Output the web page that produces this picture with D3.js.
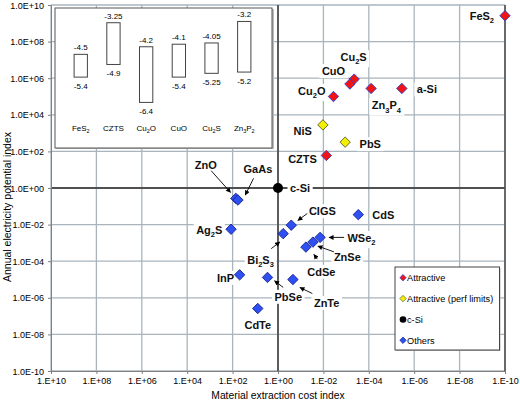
<!DOCTYPE html>
<html><head><meta charset="utf-8">
<script src="https://cdn.jsdelivr.net/npm/d3@7/dist/d3.min.js"></script>
<style>body{margin:0;background:#fff}svg{display:block;font-family:"Liberation Sans",Arial,sans-serif}</style>
</head><body><svg id="c" width="520" height="401"></svg>
<script>
// ---------- data ----------
const materials = ["FeS2","Cu2S","CuO","Cu2O","Zn3P4","a-Si","NiS","PbS","CZTS","c-Si","ZnO","GaAs","Ag2S","CIGS","Bi2S3","CdS","WSe2","ZnSe","CdSe","PbSe","ZnTe","InP","CdTe"];
const costIndex = [1e-10,4.4e-4,6.8e-4,3.6e-3,7.9e-5,3.5e-6,1.05e-2,1.1e-3,7.4e-3,1,72,58,117,0.26,0.59,2.9e-4,1.4e-2,2.9e-2,5.9e-2,2.9,0.22,49,7.8];
const electricityIndex = [2.6e9,8.9e5,4.8e5,1.0e5,2.75e5,2.75e5,2.8e3,3.2e2,60,1,0.27,0.22,5.6e-3,9.3e-3,3.2e-3,3.5e-2,2.0e-3,1.1e-3,5.9e-4,1.3e-5,1.0e-5,1.8e-5,2.6e-7];
const groups = ["Attractive","Attractive","Attractive","Attractive","Attractive","Attractive","Attractive (perf limits)","Attractive (perf limits)","Attractive","c-Si","Others","Others","Others","Others","Others","Others","Others","Others","Others","Others","Others","Others","Others"];
const xTickValues = [1e10,1e8,1e6,1e4,1e2,1,1e-2,1e-4,1e-6,1e-8,1e-10];
const xTickLabels = ["1.E+10","1.E+08","1.E+06","1.E+04","1.E+02","1.E+00","1.E-02","1.E-04","1.E-06","1.E-08","1.E-10"];
const yTickValues = [1e-10,1e-8,1e-6,1e-4,1e-2,1,1e2,1e4,1e6,1e8,1e10];
const yTickLabels = ["1.0E-10","1.0E-08","1.0E-06","1.0E-04","1.0E-02","1.0E+00","1.0E+02","1.0E+04","1.0E+06","1.0E+08","1.0E+10"];
const legendLabels = ["Attractive","Attractive (perf limits)","c-Si","Others"];
const insetMaterials = ["FeS2","CZTS","Cu2O","CuO","Cu2S","Zn3P2"];
const insetHigh = [-4.5,-3.25,-4.2,-4.1,-4.05,-3.2];
const insetLow = [-5.4,-4.9,-6.4,-5.4,-5.25,-5.2];
const insetHighLabels = ["-4.5","-3.25","-4.2","-4.1","-4.05","-3.2"];
const insetLowLabels = ["-5.4","-4.9","-6.4","-5.4","-5.25","-5.2"];

// ---------- layout / style ----------
const L = 51, R = 505, T = 5, B = 371;
const gridColor = "#a9b4bc";
const styles = {
  "Attractive": {fill:"#f01414", stroke:"#2b3fd0"},
  "Attractive (perf limits)": {fill:"#f2f000", stroke:"#5a5a20"},
  "c-Si": {fill:"#000", stroke:"#000"},
  "Others": {fill:"#2e4ff2", stroke:"#15238a"}
};
// label offsets (text anchor point relative to marker), arrows [x1,y1,x2,y2] relative to marker
const labelLayout = {
  "FeS2":{dx:-11,dy:0,a:"end"}, "Cu2S":{dx:-13.7,dy:-22,a:"start"}, "CuO":{dx:-28,dy:-13,a:"start"},
  "Cu2O":{dx:-8,dy:-5.6,a:"end"}, "Zn3P4":{dx:0.7,dy:17,a:"start"}, "a-Si":{dx:15,dy:1,a:"start"},
  "NiS":{dx:-11,dy:6,a:"end"}, "PbS":{dx:14.4,dy:2,a:"start"}, "CZTS":{dx:-9.5,dy:3.7,a:"end"},
  "c-Si":{dx:12,dy:0,a:"start"}, "ZnO":{dx:-41,dy:-33,a:"start"}, "GaAs":{dx:5.6,dy:-31,a:"start"},
  "Ag2S":{dx:-8.7,dy:1,a:"end"}, "CIGS":{dx:17.6,dy:-14,a:"start"}, "Bi2S3":{dx:-36,dy:26,a:"start"},
  "CdS":{dx:14,dy:0,a:"start"}, "WSe2":{dx:27.4,dy:0.7,a:"start"}, "ZnSe":{dx:21,dy:14.7,a:"start"},
  "CdSe":{dx:1.4,dy:24.7,a:"start"}, "PbSe":{dx:7,dy:19.4,a:"start"}, "ZnTe":{dx:21,dy:23.4,a:"start"},
  "InP":{dx:-5.5,dy:3,a:"end"}, "CdTe":{dx:-13.3,dy:16.7,a:"start"}
};
const arrowLayout = {
  "ZnO":[-24.6,-27.6,-5.3,-6], "GaAs":[15.6,-21.7,7.3,-5], "CIGS":[16,-11.7,6.6,-4.7],
  "Bi2S3":[-12,15,-3.4,8.4], "WSe2":[24,0,9,0], "ZnSe":[21,9.7,5,4], "CdSe":[11.4,12,8,7.3],
  "PbSe":[15.7,10,7,3.4], "ZnTe":[19.4,14,7,8]
};

const svg = d3.select("#c");
const x = d3.scaleLog().domain([1e10,1e-10]).range([L,R]);
const y = d3.scaleLog().domain([1e-10,1e10]).range([B,T]);

svg.append("defs").append("marker").attr("id","ah").attr("viewBox","0 0 10 10")
  .attr("refX",9).attr("refY",5).attr("markerWidth",6).attr("markerHeight",5)
  .attr("markerUnits","userSpaceOnUse").attr("orient","auto")
  .append("path").attr("d","M0,0L10,5L0,10Z").attr("fill","#000");

// grid
const g = svg.append("g");
g.selectAll(".vg").data(xTickValues).join("line")
  .attr("x1",d=>x(d)).attr("x2",d=>x(d)).attr("y1",T).attr("y2",B)
  .attr("stroke",gridColor).attr("stroke-width",1.3);
g.selectAll(".hg").data(yTickValues).join("line")
  .attr("y1",d=>y(d)).attr("y2",d=>y(d)).attr("x1",L).attr("x2",R)
  .attr("stroke",gridColor).attr("stroke-width",1.3);
// thick reference lines at 1
g.append("line").attr("x1",x(1)).attr("x2",x(1)).attr("y1",T).attr("y2",B).attr("stroke","#505050").attr("stroke-width",1.8);
g.append("line").attr("y1",y(1)).attr("y2",y(1)).attr("x1",L).attr("x2",R).attr("stroke","#505050").attr("stroke-width",1.8);
g.append("line").attr("x1",R).attr("x2",R).attr("y1",T).attr("y2",B).attr("stroke","#505050").attr("stroke-width",1.6);

// axes
const ax = svg.append("g").attr("transform",`translate(0,${B})`)
  .call(d3.axisBottom(x).tickValues(xTickValues).tickFormat((d,i)=>xTickLabels[i]).tickSize(3).tickPadding(4));
const ay = svg.append("g").attr("transform",`translate(${L},0)`)
  .call(d3.axisLeft(y).tickValues(yTickValues).tickFormat((d,i)=>yTickLabels[i]).tickSize(3).tickPadding(4));
[ax,ay].forEach(a=>{
  a.select(".domain").attr("stroke","#808080");
  a.selectAll(".tick line").attr("stroke","#808080");
  a.selectAll("text").attr("font-size","9px").attr("fill","#000").attr("font-family","Liberation Sans, Arial, sans-serif");
});
ay.selectAll("text").attr("dy","0.35em");

svg.append("text").attr("x",278).attr("y",398.5).attr("text-anchor","middle")
  .attr("font-size","10.3px").text("Material extraction cost index");
svg.append("text").attr("transform","translate(11,207) rotate(-90)").attr("text-anchor","middle")
  .attr("font-size","10.5px").text("Annual electricity potential index");

// helper: text with subscripted digits
function richText(sel, s, fs){
  const parts = s.match(/(\d+|[^\d]+)/g);
  let sub = false;
  parts.forEach(p=>{
    if(/^\d+$/.test(p)){
      sel.append("tspan").attr("font-size",(fs*0.68)+"px").attr("dy",fs*0.28).text(p);
      sub = true;
    } else {
      const t = sel.append("tspan").text(p);
      if(sub){ t.attr("dy",-fs*0.28); sub=false; }
    }
  });
}

// inset
const ins = svg.append("g");
ins.append("rect").attr("x",56).attr("y",9).attr("width",218).attr("height",140).attr("fill","#bbb");
ins.append("rect").attr("x",55).attr("y",8).attr("width",217).attr("height",140)
  .attr("fill","#fff").attr("stroke","#555").attr("stroke-width",1);
const ix = d3.scalePoint().domain(insetMaterials).range([64.4,260.6]).padding(0.5);
const iy = d3.scaleLinear().domain([-3,-7]).range([16.4,117.6]);
const bw = 13.3;
insetMaterials.forEach((m,i)=>{
  const cx = ix(m);
  ins.append("rect").attr("x",cx-bw/2).attr("y",iy(insetHigh[i])).attr("width",bw)
    .attr("height",iy(insetLow[i])-iy(insetHigh[i])).attr("fill","#fff").attr("stroke","#444").attr("stroke-width",1);
  ins.append("text").attr("x",cx).attr("y",iy(insetHigh[i])-4).attr("text-anchor","middle").attr("font-size","8px").text(insetHighLabels[i]);
  ins.append("text").attr("x",cx).attr("y",iy(insetLow[i])+11.5).attr("text-anchor","middle").attr("font-size","8px").text(insetLowLabels[i]);
  const t = ins.append("text").attr("x",cx).attr("y",131).attr("text-anchor","middle").attr("font-size","8px");
  richText(t,m,8);
});

// labels with white background
const pts = materials.map((m,i)=>({m, cx:x(costIndex[i]), cy:y(electricityIndex[i]), grp:groups[i]}));
const lg = svg.append("g");
pts.forEach(p=>{
  const lay = labelLayout[p.m]; if(!lay) return;
  const gg = lg.append("g");
  const bg = gg.append("rect").attr("fill","#fff");
  const t = gg.append("text").attr("x",p.cx+lay.dx).attr("y",p.cy+lay.dy+4)
    .attr("text-anchor",lay.a).attr("font-size","11px").attr("font-weight","bold").attr("fill","#111");
  richText(t,p.m,11);
  const bb = t.node().getBBox();
  bg.attr("x",bb.x-2.5).attr("y",bb.y-1).attr("width",bb.width+5).attr("height",bb.height+2);
  const ar = arrowLayout[p.m];
  if(ar){
    lg.append("line").attr("x1",p.cx+ar[0]).attr("y1",p.cy+ar[1]).attr("x2",p.cx+ar[2]).attr("y2",p.cy+ar[3])
      .attr("stroke","#000").attr("stroke-width",0.9).attr("marker-end","url(#ah)");
  }
});

// markers
const diamond = r => `M0,${-r}L${r},0L0,${r}L${-r},0Z`;
pts.forEach(p=>{
  const st = styles[p.grp];
  if(p.grp==="c-Si"){
    svg.append("circle").attr("cx",p.cx).attr("cy",p.cy).attr("r",5).attr("fill",st.fill);
  } else {
    svg.append("path").attr("d",diamond(5.2)).attr("transform",`translate(${p.cx},${p.cy})`)
      .attr("fill",st.fill).attr("stroke",st.stroke).attr("stroke-width",0.9);
  }
});

// legend
const leg = svg.append("g");
leg.append("rect").attr("x",396).attr("y",268).attr("width",104.5).attr("height",83).attr("fill","#bbb");
leg.append("rect").attr("x",395).attr("y",267).attr("width",104.5).attr("height",83)
  .attr("fill","#fff").attr("stroke","#444").attr("stroke-width",1);
const ly = d3.scalePoint().domain(legendLabels).range([277.7,340.3]);
legendLabels.forEach(l=>{
  const st = styles[l];
  if(l==="c-Si") leg.append("circle").attr("cx",403).attr("cy",ly(l)).attr("r",3.3).attr("fill","#000");
  else leg.append("path").attr("d",diamond(3.2)).attr("transform",`translate(403,${ly(l)})`)
    .attr("fill",st.fill).attr("stroke",st.stroke).attr("stroke-width",0.7);
  leg.append("text").attr("x",407).attr("y",ly(l)+3.3).attr("font-size","9.2px").text(l);
});
</script></body></html>
